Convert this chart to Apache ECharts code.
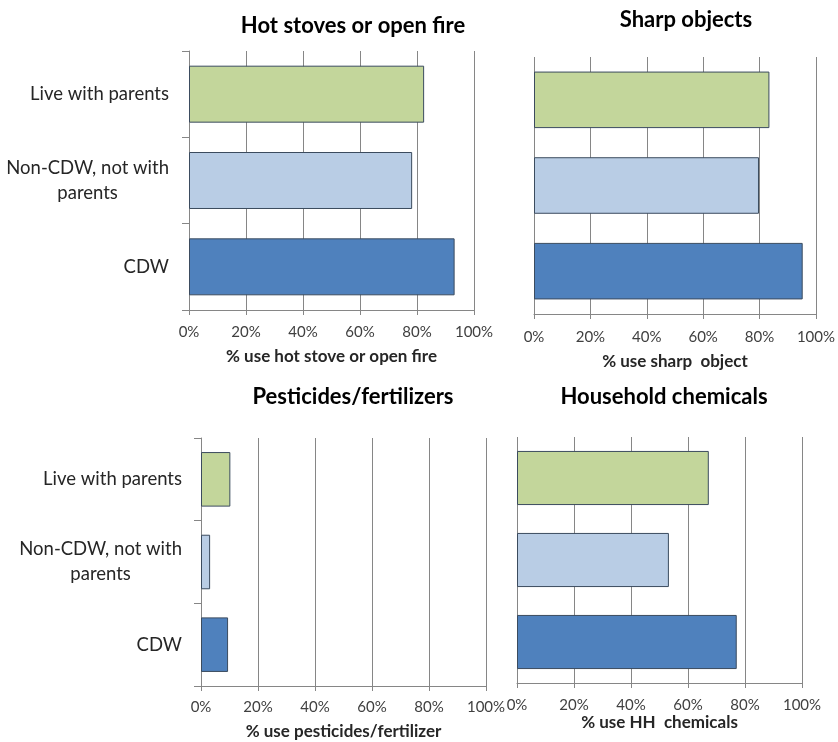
<!DOCTYPE html>
<html>
<head>
<meta charset="utf-8">
<script src="https://cdn.jsdelivr.net/npm/echarts@6/dist/echarts.min.js"></script>
<style>html,body{margin:0;padding:0;background:#fff}#c{width:838px;height:742px}</style>
</head>
<body>
<div id="c"></div>
<script>
// Categories listed bottom to top
const categories = ['CDW', 'Non-CDW, not with parents', 'Live with parents'];
const barColors = ['#4F81BD', '#B9CDE5', '#C3D69B'];
const xTicks = [0, 20, 40, 60, 80, 100];

const titles = ['Hot stoves or open fire', 'Sharp objects', 'Pesticides/fertilizers', 'Household chemicals'];
const axisNames = ['% use hot stove or open fire', '% use sharp  object', '% use pesticides/fertilizer', '% use HH  chemicals'];

const hotStoves = [93.2, 78.3, 82.5];
const sharpObjects = [95.3, 79.8, 83.5];
const pesticides = [9.5, 3.2, 10.3];
const householdChem = [77.1, 53.3, 67.3];

const seriesValues = [hotStoves, sharpObjects, pesticides, householdChem];

const FONT = 'Lato';
const grids = [
  {left: 189, right: 364, top: 51, bottom: 432},
  {left: 534, right: 19, top: 57, bottom: 428},
  {left: 201, right: 352, top: 438, bottom: 56},
  {left: 517, right: 36, top: 437, bottom: 59}
];
const showCat = [true, false, true, false];
const labelMargins = [14.5, 15.5, 13.5, 14.8];
const nameGaps = [38.5, 39.5, 37, 30.5];
const catMargins = [20, 0, 19, 0];
const titlePos = [
  {x: 353, y: 15}, {x: 686, y: 9}, {x: 353, y: 386}, {x: 664, y: 386}
];

const option = {
  animation: false,
  backgroundColor: '#fff',
  textStyle: {fontFamily: FONT},
  title: titles.map((t, i) => ({
    text: t,
    left: titlePos[i].x,
    top: titlePos[i].y,
    padding: 0,
    textAlign: 'center',
    textStyle: {fontFamily: FONT, fontWeight: 'bold', fontSize: 22, color: '#000'}
  })),
  grid: grids.map(g => Object.assign({containLabel: false}, g)),
  xAxis: grids.map((g, i) => ({
    type: 'value',
    gridIndex: i,
    min: 0,
    max: 100,
    interval: 20,
    name: axisNames[i],
    nameLocation: 'middle',
    nameGap: nameGaps[i],
    nameTextStyle: {fontFamily: FONT, fontWeight: 'bold', fontSize: 17, color: '#262626'},
    axisLine: {show: true, lineStyle: {color: '#868686', width: 1}},
    axisTick: {show: true, length: 5, lineStyle: {color: '#868686'}},
    splitLine: {show: true, lineStyle: {color: '#868686', width: 1}},
    axisLabel: {
      margin: labelMargins[i],
      fontSize: 15,
      color: '#404040',
      fontFamily: FONT,
      formatter: v => xTicks.includes(v) ? v + '%' : ''
    }
  })),
  yAxis: grids.map((g, i) => ({
    type: 'category',
    gridIndex: i,
    data: categories,
    axisLine: {show: showCat[i], lineStyle: {color: '#868686'}},
    axisTick: {show: showCat[i], length: 7, lineStyle: {color: '#868686'}},
    axisLabel: {
      show: showCat[i],
      margin: catMargins[i],
      fontSize: 18.5,
      color: '#262626',
      fontFamily: FONT,
      formatter: v => {
        if (v === 'Non-CDW, not with parents') return '{c|Non-CDW, not with}\n{c|parents}';
        return '{c|' + v + '}';
      },
      rich: {c: {align: 'center', fontSize: 18.5, fontFamily: FONT, color: '#262626', lineHeight: 25}}
    },
    splitLine: {show: false}
  })),
  series: seriesValues.map((vals, i) => ({
    type: 'bar',
    xAxisIndex: i,
    yAxisIndex: i,
    barCategoryGap: '34%',
    data: vals.map((v, k) => ({
      value: v,
      itemStyle: {color: barColors[k], borderColor: '#3B4B5E', borderWidth: 1}
    }))
  }))
};

const chart = echarts.init(document.getElementById('c'), null, {renderer: 'canvas'});
chart.setOption(option);
</script>
</body>
</html>
